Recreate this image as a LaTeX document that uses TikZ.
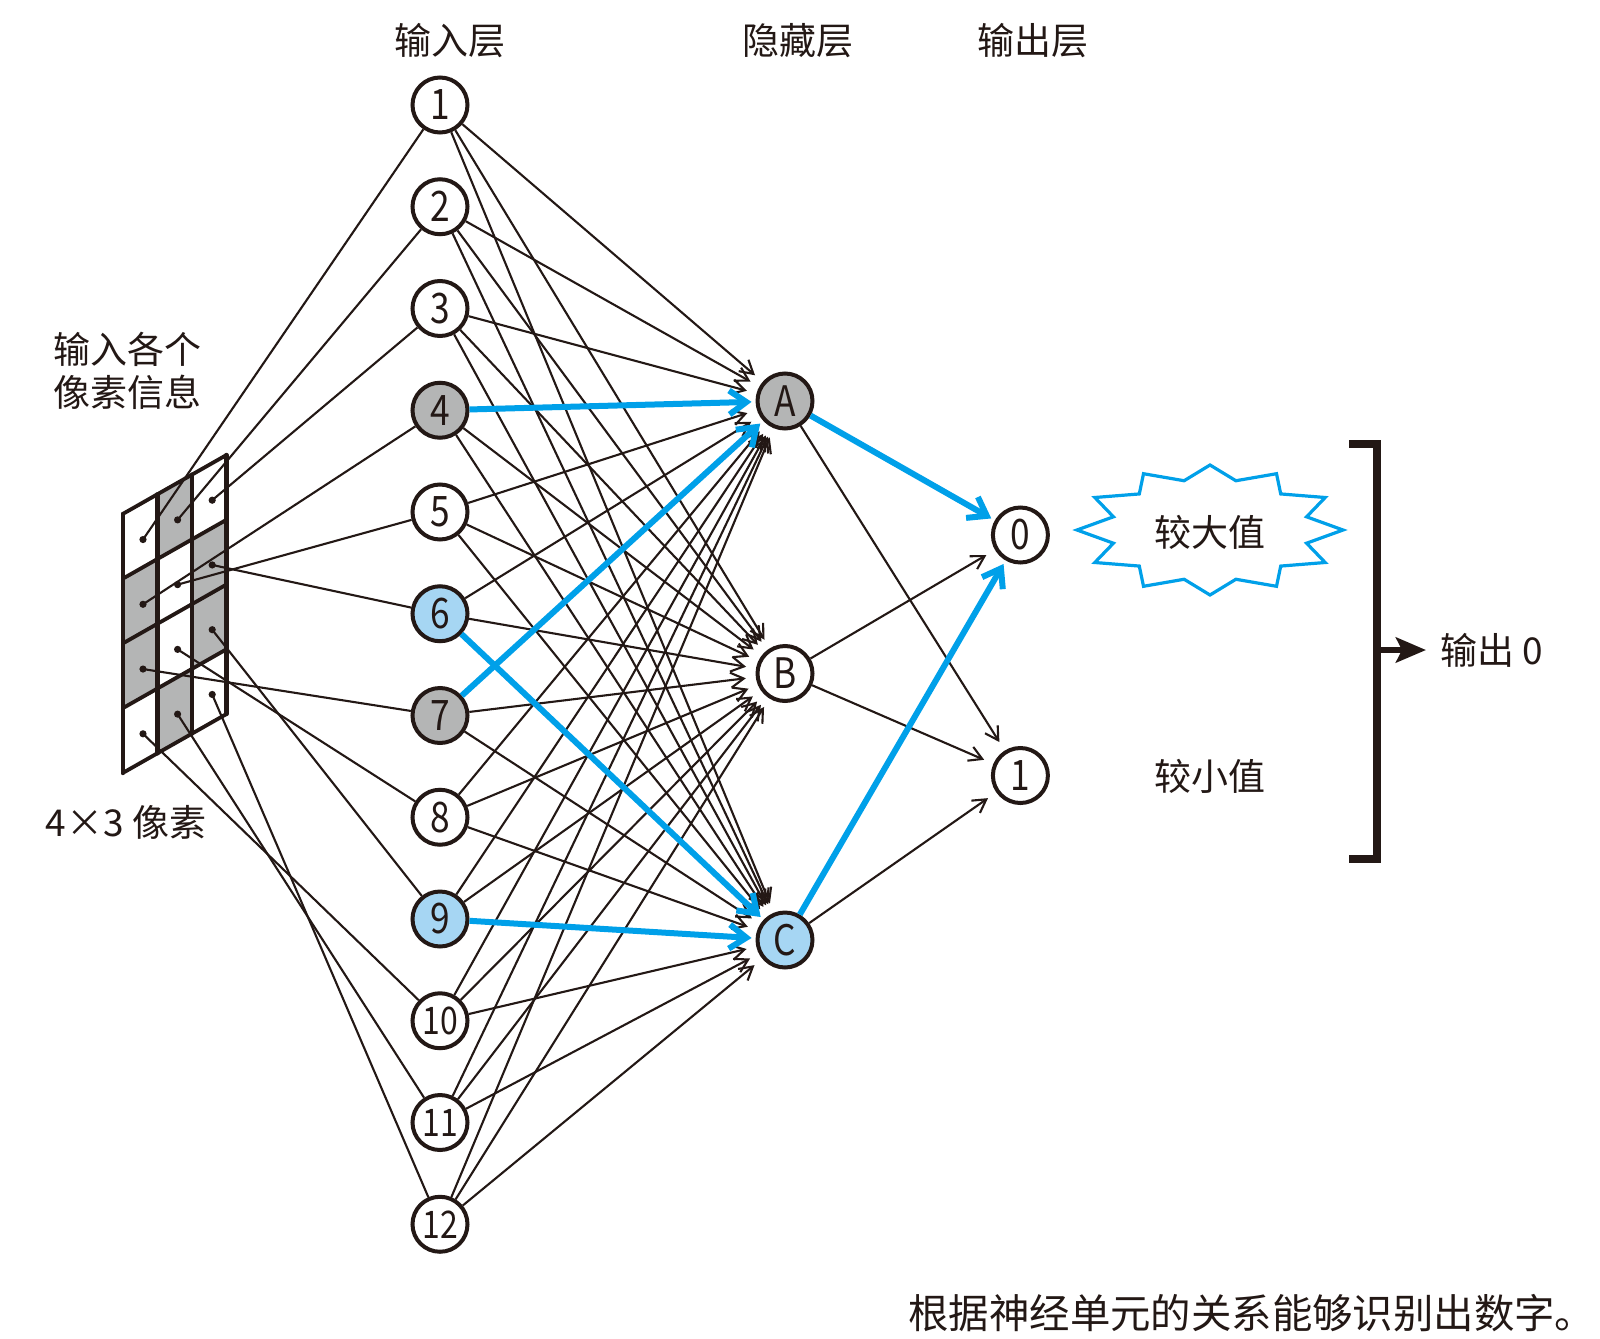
\documentclass[tikz,border=0pt]{standalone}
\usepackage{fontspec}
\usepackage{graphicx}
\setmainfont{Noto Sans CJK SC}
\usetikzlibrary{arrows.meta}
\definecolor{ink}{RGB}{35,24,21}
\definecolor{nblue}{RGB}{0,160,233}
\definecolor{lblue}{RGB}{166,214,243}
\definecolor{ngray}{RGB}{180,181,181}
\newcommand{\nlab}[1]{\ifnum#1>9 {\fontsize{19}{19}\selectfont\scalebox{0.84}[1]{#1}}\else\scalebox{0.84}[1]{#1}\fi}
\newcommand{\hlab}[1]{\scalebox{0.84}[1]{#1}}
\begin{document}
\begin{tikzpicture}[x=0.5pt,y=-0.5pt,
  neuron/.style={circle,draw=ink,line width=2pt,fill=white,minimum size=27.5pt,inner sep=0pt,text=ink,font=\fontsize{21}{21}\selectfont},
  grayn/.style={neuron,fill=ngray},
  bluen/.style={neuron,fill=lblue},
  edge/.style={draw=ink,line width=1.05pt,-{Straight Barb[length=6.5pt,width=7.5pt]},shorten >=5pt},
  bedge/.style={draw=nblue,line width=3pt,-{Straight Barb[length=8.5pt,width=12pt]},shorten >=2pt},
  cline/.style={draw=ink,line width=1.05pt},
  lbl/.style={text=ink,inner sep=0pt,font=\fontsize{18.5}{21.5}\selectfont},
  gridline/.style={draw=ink,line width=1.9pt,line cap=round,line join=miter}
]
\useasboundingbox[fill=white] (0,0) rectangle (1600,1338);

% pixel grid
\foreach \c/\r in {0/1,0/2,1/0,1/3,2/1,2/2}
  \fill[ngray] ({122.7+\c*34.6},{514-\c*19.67+\r*64.75}) -- ++(34.6,-19.67) -- ++(0,64.75) -- ++(-34.6,19.67) -- cycle;
\foreach \r in {0,...,4}
  \draw[gridline] (122.7,{514+\r*64.75}) -- ++(103.8,-59);
\foreach \c in {0,...,3}
  \draw[gridline,line width=2.2pt] ({122.7+\c*34.6},{514-\c*19.67}) -- ++(0,259);
\foreach \r in {0,...,3}
  \foreach \c in {0,1,2}{
    \pgfmathtruncatemacro\idx{\r*3+\c+1}
    \coordinate (p\idx) at ({125.7+(\c+0.5)*34.6},{517-(\c+0.5)*19.67+(\r+0.5)*64.75});
  }

% input layer
\foreach \i in {1,2,3,5,8,10,11,12}
  \node[neuron] (n\i) at (440,{105+(\i-1)*101.75}) {\nlab{\i}};
\foreach \i in {4,7}
  \node[grayn] (n\i) at (440,{105+(\i-1)*101.75}) {\nlab{\i}};
\foreach \i in {6,9}
  \node[bluen] (n\i) at (440,{105+(\i-1)*101.75}) {\nlab{\i}};

% hidden layer
\node[grayn] (A) at (785,401) {\hlab{A}};
\node[neuron] (B) at (785,673.5) {\hlab{B}};
\node[bluen] (C) at (785,940) {\hlab{C}};

% output layer
\node[neuron] (o0) at (1020.4,535) {\hlab{0}};
\node[neuron] (o1) at (1020.4,775.5) {\hlab{1}};

% pixel -> input
\foreach \i in {1,...,12}{
  \draw[cline] (p\i) -- (n\i);
  \fill[ink] (p\i) circle[radius=1.8pt];
}

% input -> hidden
\foreach \i/\h in {1/A,1/B,1/C,2/A,2/B,2/C,3/A,3/B,3/C,4/B,4/C,5/A,5/B,5/C,6/A,6/B,7/B,7/C,8/A,8/B,8/C,9/A,9/B,10/A,10/B,10/C,11/A,11/B,11/C,12/A,12/B,12/C}
  \draw[edge] (n\i) -- (\h);
% hidden -> output
\foreach \h/\o in {A/o1,B/o0,B/o1,C/o1}
  \draw[edge] (\h) -- (\o);
% highlighted paths
\foreach \i/\h in {4/A,7/A,6/C,9/C}
  \draw[bedge] (n\i) -- (\h);
\draw[bedge] (A) -- (o0);
\draw[bedge] (C) -- (o0);

% headings
\node[lbl] (hin) at (450,41) {输入层};
\node[lbl] (hhid) at (798,41) {隐藏层};
\node[lbl] (hout) at (1033,41) {输出层};
\node[lbl,align=left,anchor=west] (pixinfo) at (53,371) {输入各个\\像素信息};
\node[lbl] (pixsize) at (126,822) {4×3 像素};

% starburst
\draw[nblue,line width=1.6pt,fill=white,line join=miter]
  (1343,530) \foreach \k in {1,...,23}{
    -- ({1210+(mod(\k,2)==0?133:100)*cos(15*\k)},{530+(mod(\k,2)==0?65:51)*sin(15*\k)})
  } -- cycle;
\node[lbl] (big) at (1210,532) {较大值};
\node[lbl] (small) at (1210,776) {较小值};

% bracket and result
\draw[ink,line width=3.6pt,line join=miter] (1349,444) -- (1377,444) -- (1377,859) -- (1349,859);
\coordinate (brk) at (1377,650);
\node[lbl,anchor=west] (res) at (1440,650) {输出 0};
\draw[ink,line width=3pt,-{Stealth[length=15pt,width=12.5pt,inset=3pt]},shorten >=7pt] (brk) -- (res.west);

% caption
\node[text=ink,inner sep=0pt,anchor=west,font=\fontsize{20.2}{22}\selectfont] (cap) at (908,1313) {根据神经单元的关系能够识别出数字。};
\end{tikzpicture}
\end{document}
